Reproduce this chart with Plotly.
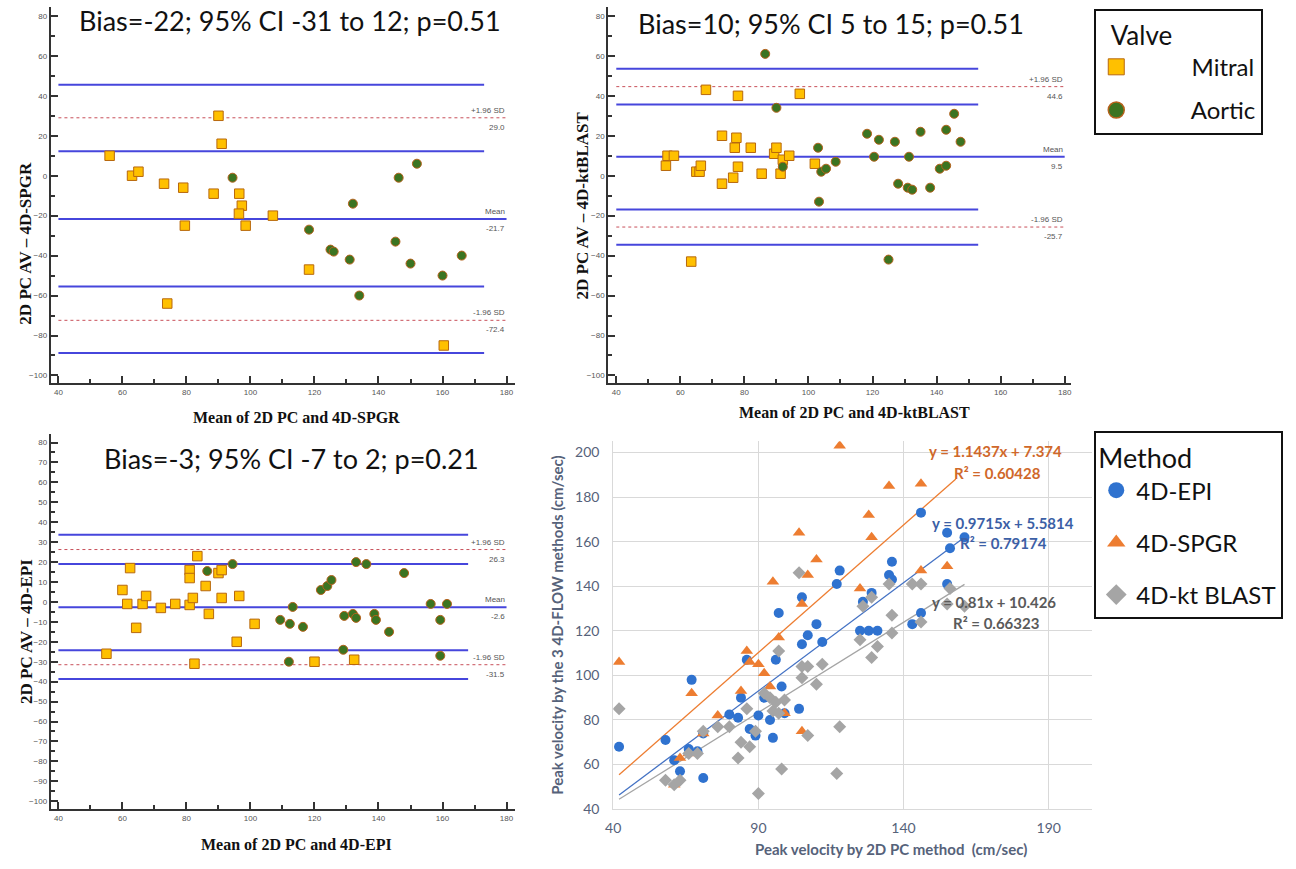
import numpy as np
import plotly.graph_objects as go

W, H = 1296, 869

# ---------------- Bland-Altman data ----------------
# Top-left: 2D PC vs 4D-SPGR
spgr_mitral_x = [56, 63, 65, 73, 79, 79.5, 74, 88.5, 90, 91, 96.5, 97.3, 96.4, 98.5, 107, 118.3, 160.4]
spgr_mitral_y = [10, 0, 2, -4, -6, -25, -64, -9, 30, 16, -9, -15, -19, -25, -20, -47, -85]
spgr_aortic_x = [94.4, 118.3, 125, 126, 131, 132, 134, 145.3, 146.3, 152, 150, 160, 166]
spgr_aortic_y = [-1, -27, -37, -38, -42, -14, -60, -33, -1, 6, -44, -50, -40]
spgr_mean = -21.7
spgr_loa = [29.0, -72.4]
spgr_ci = [45.6, 12.3, -55.5, -88.8]
spgr_ci_end = 173

# Top-right: 2D PC vs 4D-ktBLAST
kt_mitral_x = [55.5, 56, 58, 68, 65, 66, 66.4, 63.4, 73, 73, 76.5, 77, 77.5, 78, 78, 82, 85.4, 89.3, 90, 92, 91.3, 94, 97.3, 102]
kt_mitral_y = [5, 10, 10, 43, 2, 2, 5, -43, 20, -4, -1, 14, 19, 40, 4.5, 14, 1, 11, 14, 8, 1, 10, 41, 6]
kt_aortic_x = [86.5, 90, 92, 103, 103.3, 104, 105.5, 108.5, 118.3, 120.5, 122, 125, 127, 128, 131, 131.4, 132.4, 135, 138, 141, 143, 143, 145.5, 147.5]
kt_aortic_y = [61, 34, 4.5, 14, -13, 2, 3.5, 7, 21, 9.5, 18, -42, 17, -4, -6, 9.5, -7, 22, -6, 3.5, 23, 5, 31, 17]
kt_mean = 9.5
kt_loa = [44.6, -25.7]
kt_ci = [53.5, 35.7, -16.9, -34.5]
kt_ci_end = 153

# Bottom-left: 2D PC vs 4D-EPI
epi_mitral_x = [55, 60, 62.4, 61.5, 64.3, 66.3, 67.4, 72, 76.5, 81, 81, 81, 82, 82.5, 83.4, 86, 87, 90, 91, 91, 96.5, 95.7, 101.3, 120, 132.4]
epi_mitral_y = [-26, 6, 17, -1, -13, -1, 3, -3, -1, 16, 12, -1.5, 2, -31, 23, 8, -6, 14.5, 16, 2, 3, -20, -11, -30, -29]
epi_aortic_x = [86.5, 94.4, 109.3, 112, 112.3, 113.2, 116.4, 122, 124, 125.3, 129, 129.3, 132, 133, 133, 136.2, 138.7, 139.2, 143.3, 148, 156.3, 159.3, 159.3, 161.4]
epi_aortic_y = [15.5, 19, -9, -30, -11, -2.5, -12.5, 6, 8, 11, -24, -7, -6, -8, 20, 19, -6, -9, -15, 14.5, -1, -9, -27, -1]
epi_mean = -2.6
epi_loa = [26.3, -31.5]
epi_ci = [33.7, 19.0, -24.2, -38.7]
epi_ci_end = 168

ba_titles = ["Bias=-22; 95% CI -31 to 12; p=0.51",
             "Bias=10; 95% CI 5 to 15; p=0.51",
             "Bias=-3; 95% CI -7 to 2; p=0.21"]
ba_ytitles = ["2D PC AV – 4D-SPGR", "2D PC AV – 4D-ktBLAST", "2D PC AV – 4D-EPI"]
ba_xtitles = ["Mean of 2D PC and 4D-SPGR", "Mean of 2D PC and 4D-ktBLAST", "Mean of 2D PC and 4D-EPI"]
valve_names = ["Mitral", "Aortic"]

# ---------------- Scatter (regression) data ----------------
epi_pc = [42, 58, 61, 63, 66, 67, 69, 71, 71, 80, 83, 84, 86, 87, 89, 90, 92, 94, 95, 96, 97, 98, 99, 104, 105, 105, 107, 110, 112, 117, 118, 125, 126, 128, 129, 131, 135, 136, 136, 143, 146, 146, 155, 155, 156, 161]
epi_4d = [68, 71, 62, 57, 67, 98, 66, 74, 54, 82.5, 81, 90, 107, 76, 73, 82, 90, 80, 72, 107, 128, 95, 83, 85, 114, 135, 118, 123, 115, 141, 147, 120, 133, 120, 137, 120, 145, 151, 143, 123, 128, 173, 164, 141, 157, 162]
spgr_pc = [42, 63, 61, 67, 66, 71, 76, 84, 86, 87, 90, 92, 94, 95, 97, 99, 104, 105, 105, 107, 110, 118, 125, 128, 129, 135, 146, 146, 155]
spgr_4d = [106, 63, 51, 92, 65, 74, 82, 93, 111, 106, 105, 101, 95, 142, 117, 83, 164, 132, 75, 145, 152, 203, 139, 172, 162, 185, 186, 147, 149]
kt_pc = [42, 58, 61, 63, 66, 69, 71, 76, 80, 83, 84, 86, 87, 89, 90, 92, 94, 95, 96, 97, 97, 98, 99, 104, 105, 105, 107, 107, 110, 112, 117, 118, 125, 126, 129, 129, 131, 135, 136, 136, 143, 146, 146, 155, 156, 161]
kt_4d = [85, 53, 51, 53, 65, 65, 75, 77, 77, 63, 70, 85, 68, 75, 47, 92, 90, 84, 88, 111, 83, 58, 89, 146, 104, 99, 104, 73, 96, 105, 56, 77, 116, 131, 108, 135, 113, 141, 119, 127, 141, 141, 124, 132, 139, 131]

method_names = ["4D-EPI", "4D-SPGR", "4D-kt BLAST"]
fit_slope = [0.9715, 1.1437, 0.81]
fit_intercept = [5.5814, 7.374, 10.426]
fit_xmin = [42, 42, 42]
fit_xmax = [161, 158, 161]
fit_eq = ["y = 0.9715x + 5.5814", "y = 1.1437x + 7.374", "y = 0.81x + 10.426"]
fit_r2 = ["R² = 0.79174", "R² = 0.60428", "R² = 0.66323"]

# ---------------- styling ----------------
SQ_FILL, SQ_LINE = "#FFC000", "#B8680E"
CI_FILL, CI_LINE = "#3B7421", "#B5621C"
BLUE_LINE = "#4646DC"
RED_DOT = "#C8505A"
M_COLORS = ["#2F72CF", "#ED7D31", "#A5A5A5"]
FIT_COLORS = ["#4472C4", "#ED7D31", "#A5A5A5"]
EQ_COLORS = ["#3C5FA6", "#D0682A", "#5A5A5A"]
M_SYMBOLS = ["circle", "triangle-up", "diamond"]
AX_TXT = "#56627A"
NB = "\u00a0"


def fx(p):
    return p / W


def fy(p):
    return 1 - p / H


fig = go.Figure()

panels = [
    dict(ax="", mx=spgr_mitral_x, my=spgr_mitral_y, ax_x=spgr_aortic_x, ax_y=spgr_aortic_y,
         mean=spgr_mean, loa=spgr_loa, ci=spgr_ci, ci_end=spgr_ci_end),
    dict(ax="2", mx=kt_mitral_x, my=kt_mitral_y, ax_x=kt_aortic_x, ax_y=kt_aortic_y,
         mean=kt_mean, loa=kt_loa, ci=kt_ci, ci_end=kt_ci_end),
    dict(ax="3", mx=epi_mitral_x, my=epi_mitral_y, ax_x=epi_aortic_x, ax_y=epi_aortic_y,
         mean=epi_mean, loa=epi_loa, ci=epi_ci, ci_end=epi_ci_end),
]

annotations = []
for i, p in enumerate(panels):
    xa, ya = "x" + p["ax"], "y" + p["ax"]
    for v in p["ci"]:
        fig.add_trace(go.Scatter(x=[40, p["ci_end"]], y=[v, v], mode="lines", xaxis=xa, yaxis=ya,
                                 line=dict(color=BLUE_LINE, width=2), showlegend=False, hoverinfo="skip"))
    for v in p["loa"]:
        fig.add_trace(go.Scatter(x=[40, 180], y=[v, v], mode="lines", xaxis=xa, yaxis=ya,
                                 line=dict(color=RED_DOT, width=1, dash="dot"), showlegend=False, hoverinfo="skip"))
    fig.add_trace(go.Scatter(x=[40, 180], y=[p["mean"], p["mean"]], mode="lines", xaxis=xa, yaxis=ya,
                             line=dict(color=BLUE_LINE, width=2), showlegend=False, hoverinfo="skip"))
    fig.add_trace(go.Scatter(x=p["mx"], y=p["my"], mode="markers", xaxis=xa, yaxis=ya,
                             marker=dict(symbol="square", size=9.5, color=SQ_FILL, line=dict(color=SQ_LINE, width=1)),
                             showlegend=False, name=valve_names[0]))
    fig.add_trace(go.Scatter(x=p["ax_x"], y=p["ax_y"], mode="markers", xaxis=xa, yaxis=ya,
                             marker=dict(symbol="circle", size=9, color=CI_FILL, line=dict(color=CI_LINE, width=1)),
                             showlegend=False, name=valve_names[1]))
    lab_font = dict(family="Liberation Sans", size=8, color="#555555")
    for top, val in [("+1.96 SD", p["loa"][0]), ("Mean", p["mean"]), ("-1.96 SD", p["loa"][1])]:
        annotations.append(dict(x=180, y=val, xref=xa, yref=ya, text=top, showarrow=False,
                                xanchor="right", yanchor="bottom", yshift=1, font=lab_font))
        annotations.append(dict(x=180, y=val, xref=xa, yref=ya, text=f"{val:.1f}", showarrow=False,
                                xanchor="right", yanchor="top", yshift=-3, font=lab_font))

# legend-only traces for the Valve legend
fig.add_trace(go.Scatter(x=[None], y=[None], mode="markers", name=NB * 9 + valve_names[0],
                         marker=dict(symbol="square", size=16, color=SQ_FILL, line=dict(color=SQ_LINE, width=1)),
                         legend="legend", legendgroup="v1"))
fig.add_trace(go.Scatter(x=[None], y=[None], mode="markers", name=NB * 9 + valve_names[1],
                         marker=dict(symbol="circle", size=16, color=CI_FILL, line=dict(color=CI_LINE, width=1.5)),
                         legend="legend", legendgroup="v2"))

# ---------------- regression scatter ----------------
series = [(epi_pc, epi_4d), (spgr_pc, spgr_4d), (kt_pc, kt_4d)]
for k in range(3):
    xs = np.array([fit_xmin[k], fit_xmax[k]], dtype=float)
    fig.add_trace(go.Scatter(x=xs, y=fit_slope[k] * xs + fit_intercept[k], mode="lines", xaxis="x4", yaxis="y4",
                             line=dict(color=FIT_COLORS[k], width=1.3), showlegend=False, hoverinfo="skip"))
for k in range(3):
    sx, sy = series[k]
    fig.add_trace(go.Scatter(x=sx, y=sy, mode="markers", xaxis="x4", yaxis="y4", name=method_names[k],
                             marker=dict(symbol=M_SYMBOLS[k], size=10 if k != 1 else 11, color=M_COLORS[k]),
                             showlegend=False))
for k in range(3):
    fig.add_trace(go.Scatter(x=[None], y=[None], mode="markers", name=method_names[k],
                             marker=dict(symbol=M_SYMBOLS[k], size=16, color=M_COLORS[k]),
                             legend="legend2", legendgroup="m%d" % k))

# equations
eq_pos = [(928, 528, 956, 548), (925, 455, 950, 477), (928, 608, 949, 629)]
for k in range(3):
    x1, y1, x2, y2 = eq_pos[k]
    ef = dict(family="Lato", size=15, color=EQ_COLORS[k])
    annotations.append(dict(x=fx(x1), y=fy(y1), xref="paper", yref="paper", text="<b>%s</b>" % fit_eq[k],
                            showarrow=False, xanchor="left", yanchor="middle", font=ef))
    annotations.append(dict(x=fx(x2), y=fy(y2), xref="paper", yref="paper", text="<b>%s</b>" % fit_r2[k],
                            showarrow=False, xanchor="left", yanchor="middle", font=ef))

# ---------------- BA titles ----------------
title_pos = [(284, 21), (828, 24), (285, 463)]
ytitle_pos = [(18, 245), (578, 207), (18, 637)]
xtitle_pos = [(290, 421), (852, 416), (290, 852)]
for i in range(3):
    annotations.append(dict(x=fx(title_pos[i][0]), y=fy(title_pos[i][1]), xref="paper", yref="paper",
                            text=ba_titles[i], showarrow=False, xanchor="center", yanchor="middle",
                            font=dict(family="Lato", size=27, color="#111111")))
    annotations.append(dict(x=fx(ytitle_pos[i][0]), y=fy(ytitle_pos[i][1]), xref="paper", yref="paper",
                            text="<b>%s</b>" % ba_ytitles[i], showarrow=False, textangle=-90,
                            xanchor="center", yanchor="middle",
                            font=dict(family="Liberation Serif", size=17, color="#111111")))
    annotations.append(dict(x=fx(xtitle_pos[i][0]), y=fy(xtitle_pos[i][1]), xref="paper", yref="paper",
                            text="<b>%s</b>" % ba_xtitles[i], showarrow=False,
                            xanchor="center", yanchor="middle",
                            font=dict(family="Liberation Serif", size=16, color="#111111")))

# scatter axis titles
annotations.append(dict(x=fx(553), y=fy(631), xref="paper", yref="paper",
                        text="<b>Peak velocity by the 3 4D-FLOW methods (cm/sec)</b>", showarrow=False,
                        textangle=-90, xanchor="center", yanchor="middle",
                        font=dict(family="Lato", size=15, color=AX_TXT)))
annotations.append(dict(x=fx(888), y=fy(857), xref="paper", yref="paper",
                        text="<b>Peak velocity by 2D PC method  (cm/sec)</b>", showarrow=False,
                        xanchor="center", yanchor="middle",
                        font=dict(family="Lato", size=15, color=AX_TXT)))

# ---------------- axes ----------------
tick_font = dict(family="Liberation Sans", size=8, color="#555555")


def ba_x(domain, rng):
    return dict(domain=domain, range=rng, showline=True, linecolor="#333333", linewidth=2,
                ticks="inside", ticklen=7, tickwidth=1.5, tickcolor="#333333", tick0=40, dtick=20,
                minor=dict(ticks="inside", ticklen=4, tickwidth=1.5, tickcolor="#333333", dtick=10),
                showgrid=False, zeroline=False, tickfont=tick_font, fixedrange=True)


def ba_y(domain, rng, dt, mdt):
    return dict(domain=domain, range=rng, showline=True, linecolor="#333333", linewidth=2,
                ticks="inside", ticklen=7, tickwidth=1.5, tickcolor="#333333", tick0=0, dtick=dt,
                minor=dict(ticks="inside", ticklen=4, tickwidth=1.5, tickcolor="#333333", dtick=mdt),
                showgrid=False, zeroline=False, tickfont=tick_font, fixedrange=True)


top_y = [fy(387), fy(7)]
bot_y = [fy(816.7), fy(438)]

fig.update_layout(
    width=W, height=H, margin=dict(l=0, r=0, t=0, b=0),
    paper_bgcolor="white", plot_bgcolor="white",
    xaxis=dict(ba_x([fx(43), fx(510)], [37.6, 182.6]), anchor="y"),
    yaxis=dict(ba_y(top_y, [-104, 84.5], 20, 10), anchor="x"),
    xaxis2=dict(ba_x([fx(604), fx(1070)], [37.5, 182.1]), anchor="y2"),
    yaxis2=dict(ba_y(top_y, [-104, 84.5], 20, 10), anchor="x2"),
    xaxis3=dict(ba_x([fx(43), fx(510)], [37.6, 182.6]), anchor="y3"),
    yaxis3=dict(ba_y(bot_y, [-104, 84.3], 10, 5), anchor="x3"),
    xaxis4=dict(domain=[fx(609), fx(1091)], range=[40, 205], anchor="y4", tick0=40, dtick=50,
                showgrid=True, gridcolor="#D9D9D9", gridwidth=1, showline=True, linecolor="#D9D9D9",
                zeroline=False, ticks="", ticklabelstandoff=6,
                tickfont=dict(family="Lato", size=14, color=AX_TXT)),
    yaxis4=dict(domain=[fy(816.7), fy(445.4)], range=[40, 205], anchor="x4", tick0=40, dtick=20,
                showgrid=True, gridcolor="#D9D9D9", gridwidth=1, showline=True, linecolor="#D9D9D9",
                zeroline=False, ticks="", ticklabelstandoff=10,
                tickfont=dict(family="Lato", size=14, color=AX_TXT)),
    legend=dict(x=fx(1093), y=fy(9), xanchor="left", yanchor="top", bordercolor="#111111", borderwidth=2,
                bgcolor="white", font=dict(family="Lato", size=24, color="#111111"),
                title=dict(text=NB * 2 + "Valve", font=dict(family="Lato", size=26, color="#111111")),
                tracegroupgap=9, itemsizing="trace"),
    legend2=dict(x=fx(1093), y=fy(435), xanchor="left", yanchor="top", bordercolor="#111111", borderwidth=2,
                 bgcolor="white", font=dict(family="Lato", size=24, color="#111111"),
                 title=dict(text="Method", font=dict(family="Lato", size=27, color="#111111")),
                 tracegroupgap=18, itemsizing="trace"),
    annotations=annotations,
)

fig.write_html("out.html", config={"displayModeBar": False},
               post_script="document.body.style.margin='0';")
